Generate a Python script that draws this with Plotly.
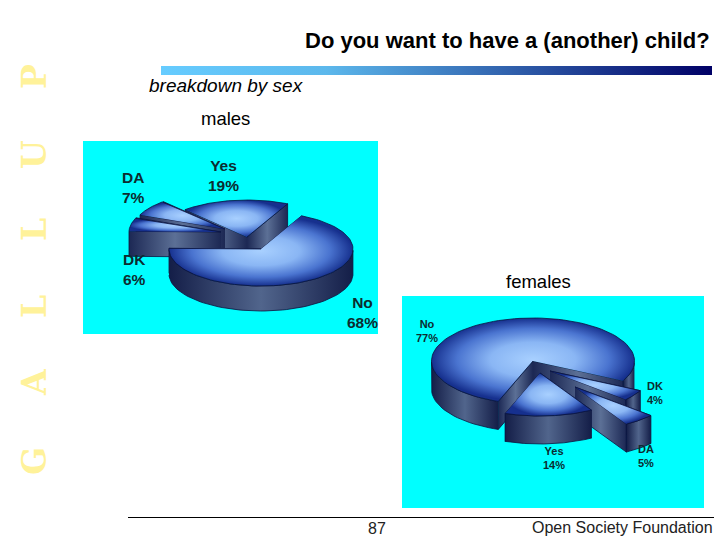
import numpy as np
import plotly.graph_objects as go

TITLE = "Do you want to have a (another) child?"
SUBTITLE = "breakdown by sex"
SIDE_LETTERS = ["G", "A", "L", "L", "U", "P"]
PAGE = "87"
ORG = "Open Society Foundation"

male_cats = ["No", "Yes", "DA", "DK"]
male_vals = [68, 19, 7, 6]
female_cats = ["No", "DK", "DA", "Yes"]
female_vals = [77, 4, 5, 14]

TOP_SCALE = [[0, "#a8d0ff"], [0.42, "#8ab6f4"], [0.75, "#4a74d0"], [1, "#16308e"]]
WALL_SCALE = [[0, "#141e48"], [0.5, "#51658c"], [1, "#141e48"]]
FACE_SCALE = [[0, "#1c2854"], [0.5, "#5c7096"], [1, "#1c2854"]]
EDGE = "#0a1440"

fig = go.Figure()


def poly(x, y, scale, kind):
    fig.add_trace(go.Scatter(
        x=x, y=y, mode="lines", fill="toself",
        fillgradient=dict(type=kind, colorscale=scale),
        line=dict(color=EDGE, width=0.8),
        hoverinfo="skip", showlegend=False,
    ))


def wedge(cx, cy, rx, ry, depth, a0, a1):
    t = np.radians(np.linspace(a0, a1, 90))
    ax = cx + rx * np.cos(t)
    ay = cy - ry * np.sin(t)
    for i in (0, -1):
        poly([cx, ax[i], ax[i], cx], [cy, ay[i], ay[i] + depth, cy + depth], FACE_SCALE, "horizontal")
    low = np.sin(t) <= 0.001
    i = 0
    while i < len(t):
        if low[i]:
            j = i
            while j + 1 < len(t) and low[j + 1]:
                j += 1
            if j > i:
                sx, sy = ax[i:j + 1], ay[i:j + 1]
                poly(list(sx) + list(sx[::-1]), list(sy) + list(sy[::-1] + depth), WALL_SCALE, "horizontal")
            i = j + 1
        else:
            i += 1
    poly([cx] + list(ax), [cy] + list(ay), TOP_SCALE, "radial")


def pie(vals, start, sign, centers, rx, ry, depth, order):
    spans = {}
    a = start
    for i, v in enumerate(vals):
        spans[i] = (a, a + sign * v * 3.6)
        a += sign * v * 3.6
    for i in order:
        wedge(centers[i][0], centers[i][1], rx, ry, depth, *spans[i])


# wedge apex positions in page pixels, same order as the categories
male_apex = [(261, 249), (247, 237), (225, 229), (221, 232)]
female_apex = [(533, 361), (550, 371), (575, 387), (540, 373)]
pie(male_vals, 179, 1, male_apex, 92, 37, 25, [1, 2, 3, 0])
pie(female_vals, 250, -1, female_apex, 101.5, 43, 28, [0, 1, 2, 3])

# header gradient bar
fig.add_trace(go.Scatter(
    x=[161, 712, 712, 161], y=[66, 66, 75, 75], mode="lines", fill="toself",
    fillgradient=dict(type="horizontal", colorscale=[[0, "#66ccff"], [0.3, "#5cb8ec"], [1, "#000066"]]),
    line=dict(width=0), hoverinfo="skip", showlegend=False,
))

shapes = [
    dict(type="rect", x0=83, x1=378, y0=141, y1=334, fillcolor="#00ffff", line_width=0, layer="below"),
    dict(type="rect", x0=402, x1=704, y0=296, y1=508, fillcolor="#00ffff", line_width=0, layer="below"),
    dict(type="line", x0=128, x1=714, y0=517.5, y1=517.5, line=dict(color="black", width=1)),
]

SANS = "Liberation Sans, Arial, sans-serif"
SERIF = "DejaVu Serif, serif"


def text(x, y, s, size, anchor="center", color="black", family=SANS, angle=0):
    fig.add_annotation(x=x, y=y, text=s, showarrow=False, xanchor=anchor, yanchor="middle",
                       textangle=angle, font=dict(family=family, size=size, color=color))


text(712, 40, f"<b>{TITLE}</b>", 22, "right")
text(147, 85, f"<i>{SUBTITLE}</i>", 19, "left")
text(225, 118, "males", 18.5)
text(538, 281, "females", 18.5)
text(377, 528, PAGE, 16, color="#222222")
text(715, 527, ORG, 16, "right", "#222222")

for y, ch in zip([461, 383, 307, 230, 155, 77], SIDE_LETTERS):
    text(34, y, f"<b>{ch}</b>", 33, color="#fff29a", family=SERIF, angle=-90)

LABEL = "#0c2c30"
male_pos = [(362, 312), (223, 175), (133, 187), (134, 269)]
for (x, y), c, v in zip(male_pos, male_cats, male_vals):
    text(x, y, f"<b>{c}<br>{v}%</b>", 15.5, color=LABEL)
female_pos = [(427, 331), (655, 393), (646, 456), (554, 458)]
for (x, y), c, v in zip(female_pos, female_cats, female_vals):
    text(x, y, f"<b>{c}<br>{v}%</b>", 11, color=LABEL)

fig.update_layout(
    width=720, height=540, margin=dict(l=0, r=0, t=0, b=0),
    paper_bgcolor="white", plot_bgcolor="white", shapes=shapes,
    xaxis=dict(range=[0, 720], visible=False, fixedrange=True),
    yaxis=dict(range=[540, 0], visible=False, fixedrange=True),
)
fig.write_html("out.html", post_script="document.body.style.margin='0';document.body.style.overflow='hidden';",
               config={"displayModeBar": False})
